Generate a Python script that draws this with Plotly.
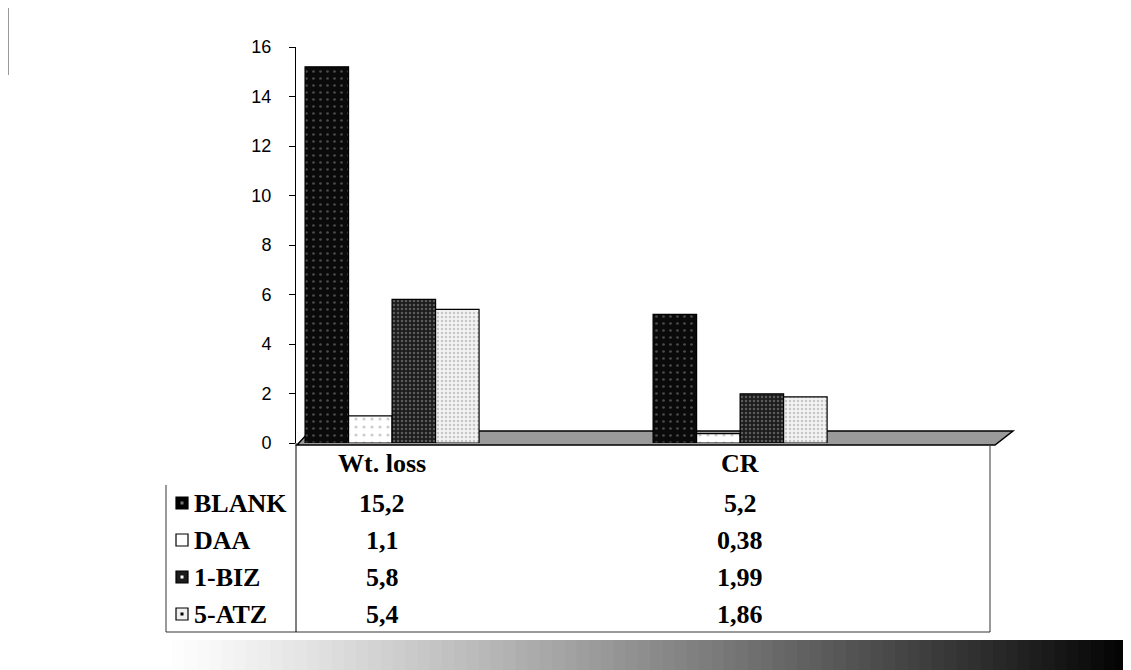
import plotly.graph_objects as go

categories = ["Wt. loss", "CR"]
series_names = ["BLANK", "DAA", "1-BIZ", "5-ATZ"]
blank = [15.2, 5.2]
daa = [1.1, 0.38]
biz = [5.8, 1.99]
atz = [5.4, 1.86]
y_ticks = [0, 2, 4, 6, 8, 10, 12, 14, 16]

series_values = [blank, daa, biz, atz]
styles = [
    dict(color="#0a0a0a", pattern=dict(shape=".", fgcolor="#8a8a8a", size=7, solidity=0.12)),
    dict(color="#ffffff", pattern=dict(shape=".", fgcolor="#9a9a9a", size=8, solidity=0.12)),
    dict(color="#1c1c1c", pattern=dict(shape=".", fgcolor="#9a9a9a", size=4, solidity=0.3)),
    dict(color="#f2f2f2", pattern=dict(shape=".", fgcolor="#9a9a9a", size=4, solidity=0.3)),
]

W, H = 1131, 670
OFF = 8  # page body margin
# plot area in reference page pixels
L, R, T, B = 296, 990, 47, 443


def px(x):
    return (x - L) / (R - L)


def py(y):
    return (B - y) / (B - T)


fig = go.Figure()
xs = list(range(len(categories)))
for name, vals, st in zip(series_names, series_values, styles):
    fig.add_trace(go.Bar(
        x=xs, y=vals, name=name,
        marker=dict(color=st["color"], pattern=st["pattern"],
                    line=dict(color="#000000", width=1.2)),
        showlegend=False,
    ))

shapes = []
# floor
floor_pts = [(297, 445), (995, 445), (1013, 431), (310, 431)]
path = "M " + " L ".join(f"{px(a):.4f},{py(b):.4f}" for a, b in floor_pts) + " Z"
shapes.append(dict(type="path", xref="paper", yref="paper", path=path,
                   fillcolor="#9a9a9a", line=dict(color="#000000", width=1.5), layer="below"))


def line(x0, y0, x1, y1, w=1):
    shapes.append(dict(type="line", xref="paper", yref="paper",
                       x0=px(x0), y0=py(y0), x1=px(x1), y1=py(y1),
                       line=dict(color="#000000", width=w)))


line(296, 443, 296, 632)
line(990, 446, 990, 632, 0.8)
line(166, 485, 166, 632, 0.8)
line(166, 632, 990, 632, 0.8)
line(8, 8, 8, 75, 0.8)

# bottom gradient band
n = 80
gx0, gx1 = 160, 1140
for i in range(n):
    a = gx0 + (gx1 - gx0) * i / n
    b = gx0 + (gx1 - gx0) * (i + 1) / n
    t = i / (n - 1)
    v = int(round(255 * (1 - t ** 1.15)))
    shapes.append(dict(type="rect", xref="paper", yref="paper",
                       x0=px(a), x1=px(b) + 0.001, y0=py(680), y1=py(640),
                       fillcolor=f"rgb({v},{v},{v})", line=dict(width=0)))

# legend keys in table
row_y = [503, 540, 577, 614]
key_fill = ["#000000", "#ffffff", "#1c1c1c", "#f0f0f0"]
key_dot = ["#777777", "#ffffff", "#ffffff", "#000000"]
for yy, f, d in zip(row_y, key_fill, key_dot):
    shapes.append(dict(type="rect", xref="paper", yref="paper",
                       x0=px(176), x1=px(188), y0=py(yy + 6), y1=py(yy - 6),
                       fillcolor=f, line=dict(color="#000000", width=1.2)))
    shapes.append(dict(type="rect", xref="paper", yref="paper",
                       x0=px(180.5), x1=px(183.5), y0=py(yy + 1.5), y1=py(yy - 1.5),
                       fillcolor=d, line=dict(width=0)))

annotations = []
tfont = dict(family="Liberation Serif", size=26, color="#000000")
label_x = [382, 740]
for cx, cat in zip(label_x, categories):
    annotations.append(dict(xref="paper", yref="paper", x=px(cx), y=py(463),
                            text=f"<b>{cat}</b>", showarrow=False, font=tfont,
                            xanchor="center", yanchor="middle"))
for yy, name, vals in zip(row_y, series_names, series_values):
    annotations.append(dict(xref="paper", yref="paper", x=px(192), y=py(yy),
                            text=f"<b>{name}</b>", showarrow=False, font=tfont,
                            xanchor="left", yanchor="middle"))
    for cx, v in zip(label_x, vals):
        annotations.append(dict(xref="paper", yref="paper", x=px(cx), y=py(yy),
                                text="<b>" + f"{v:g}".replace(".", ",") + "</b>",
                                showarrow=False, font=tfont,
                                xanchor="center", yanchor="middle"))

fig.update_layout(
    width=W, height=H,
    margin=dict(l=L - OFF, r=W - R + OFF, t=T - OFF, b=H - B + OFF, pad=0),
    paper_bgcolor="#ffffff", plot_bgcolor="rgba(0,0,0,0)",
    barmode="group", bargap=0.5, bargroupgap=0,
    shapes=shapes, annotations=annotations,
    xaxis=dict(range=[-0.276, 1.718], showticklabels=False, showgrid=False,
               zeroline=False, showline=False, ticks=""),
    yaxis=dict(range=[0, 16], tickvals=y_ticks, ticks="outside", ticklen=6,
               tickcolor="#000000", showline=True, linecolor="#000000", linewidth=1,
               showgrid=False, zeroline=False, ticklabelstandoff=14,
               tickfont=dict(family="Liberation Sans", size=18, color="#000000")),
)

fig.write_html("out.html")
